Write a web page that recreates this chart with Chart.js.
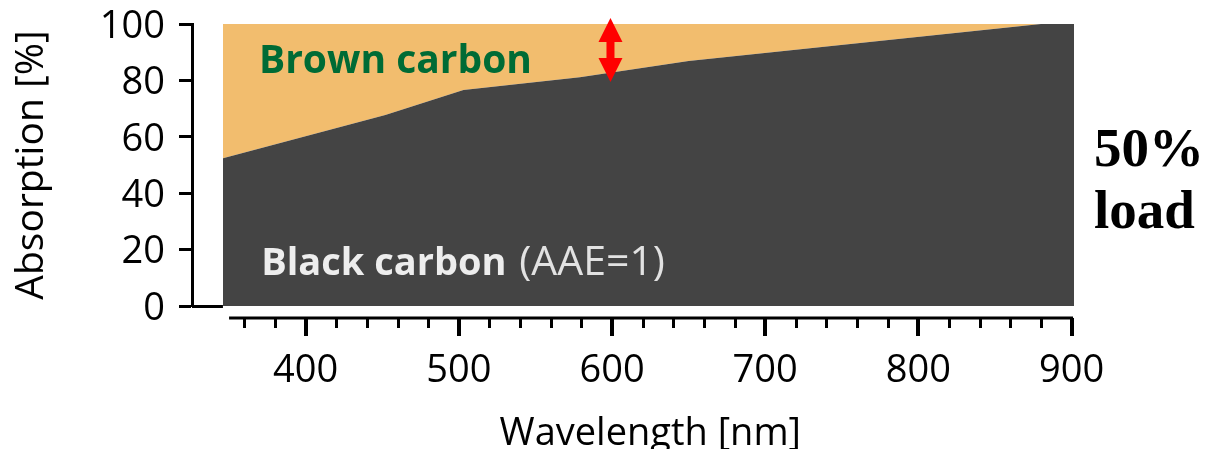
<!DOCTYPE html>
<html>
<head>
<meta charset="utf-8">
<script src="https://cdn.jsdelivr.net/npm/chart.js@4.4.1/dist/chart.umd.min.js"></script>
<style>
  html, body { margin: 0; padding: 0; background: #ffffff; }
  #wrap { width: 1211px; height: 449px; }
</style>
</head>
<body>
<div id="wrap"><canvas id="chart" width="1211" height="449"></canvas></div>
<script>
// Wavelength grid (nm) shared by both absorption series
const wavelengths = [346, 452, 503, 579, 650, 880, 901.6];
// Black carbon share of total absorption (%)
const blackCarbon = [52.4, 67.7, 76.6, 81.1, 86.9, 100, 100];
// Total absorption (%); the band between it and black carbon is brown carbon
const totalAbsorption = [100, 100, 100, 100, 100, 100, 100];

// Axis ticks
const xTickLabels = [400, 500, 600, 700, 800, 900];
const xMinorTicks = [360, 380, 420, 440, 460, 480, 520, 540, 560, 580, 620, 640,
                     660, 680, 720, 740, 760, 780, 820, 840, 860, 880];
const xAxisSpan = [350, 900];
const yTickLabels = [0, 20, 40, 60, 80, 100];

// Double arrow marking the brown carbon share at 600 nm
const arrowWavelength = 599;
const arrowSpan = [79.4, 102.1];

const FONT = "'Open Sans', 'Noto Sans', sans-serif";
const DARK = '#444444';
const ORANGE = '#F2BD6E';

// Draws the detached x axis line, its ticks and title, plus the in-plot labels
const decorations = {
  id: 'decorations',
  afterDatasetsDraw(chart) {
    const { ctx, chartArea, scales: { x, y } } = chart;
    ctx.save();

    // y = 0 baseline joining the y axis to the filled area
    ctx.strokeStyle = '#000';
    ctx.lineWidth = 3;
    ctx.beginPath();
    ctx.moveTo(chartArea.left, y.getPixelForValue(0) + 0.5);
    ctx.lineTo(x.getPixelForValue(wavelengths[0]), y.getPixelForValue(0) + 0.5);
    ctx.stroke();

    // detached x axis
    const axisY = chartArea.bottom + 12;
    ctx.lineWidth = 3;
    ctx.beginPath();
    ctx.moveTo(x.getPixelForValue(xAxisSpan[0]), axisY);
    ctx.lineTo(x.getPixelForValue(xAxisSpan[1]) + 1.5, axisY);
    ctx.stroke();

    ctx.lineWidth = 3;
    ctx.beginPath();
    xMinorTicks.forEach(v => {
      const px = Math.round(x.getPixelForValue(v)) + 0.5;
      ctx.moveTo(px, axisY);
      ctx.lineTo(px, axisY + 10);
    });
    ctx.stroke();

    ctx.lineWidth = 4;
    ctx.beginPath();
    xTickLabels.forEach(v => {
      const px = Math.round(x.getPixelForValue(v));
      ctx.moveTo(px, axisY);
      ctx.lineTo(px, axisY + 18);
    });
    ctx.stroke();

    // x axis title, centred under the axis span
    ctx.fillStyle = '#000';
    ctx.font = `38px ${FONT}`;
    ctx.textAlign = 'center';
    ctx.textBaseline = 'alphabetic';
    const midX = (x.getPixelForValue(xAxisSpan[0]) + x.getPixelForValue(xAxisSpan[1])) / 2;
    ctx.fillText('Wavelength [nm]', midX, 445);

    // in-plot labels
    ctx.textAlign = 'left';
    ctx.fillStyle = '#006B35';
    ctx.font = `bold 39px ${FONT}`;
    ctx.fillText('Brown carbon', x.getPixelForValue(369.5), y.getPixelForValue(82.5));

    const bx = x.getPixelForValue(371);
    const by = y.getPixelForValue(11);
    ctx.fillStyle = '#EDEDED';
    ctx.font = `bold 38px ${FONT}`;
    ctx.fillText('Black carbon', bx, by);
    const w = ctx.measureText('Black carbon').width;
    ctx.fillStyle = '#E2E2E2';
    ctx.font = `41px ${FONT}`;
    ctx.fillText(' (AAE=1)', bx + w + 2, by);

    // side note
    ctx.fillStyle = '#000';
    ctx.font = "bold 55px 'Liberation Serif', 'DejaVu Serif', serif";
    ctx.fillText('50%', chartArea.right + 20, 166);
    ctx.fillText('load', chartArea.right + 20, 228);

    // red double arrow
    const ax = x.getPixelForValue(arrowWavelength);
    const yLow = y.getPixelForValue(arrowSpan[0]);
    const yHigh = y.getPixelForValue(arrowSpan[1]);
    const head = 24, half = 12, shaft = 4;
    ctx.fillStyle = '#FF0000';
    ctx.beginPath();
    ctx.moveTo(ax, yHigh);
    ctx.lineTo(ax + half, yHigh + head);
    ctx.lineTo(ax + shaft, yHigh + head);
    ctx.lineTo(ax + shaft, yLow - head);
    ctx.lineTo(ax + half, yLow - head);
    ctx.lineTo(ax, yLow);
    ctx.lineTo(ax - half, yLow - head);
    ctx.lineTo(ax - shaft, yLow - head);
    ctx.lineTo(ax - shaft, yHigh + head);
    ctx.lineTo(ax - half, yHigh + head);
    ctx.closePath();
    ctx.fill();

    ctx.restore();
  }
};

const toPoints = values => wavelengths.map((w, i) => ({ x: w, y: values[i] }));

new Chart(document.getElementById('chart'), {
  type: 'line',
  data: {
    datasets: [
      {
        label: 'Black carbon',
        data: toPoints(blackCarbon),
        fill: 'origin',
        backgroundColor: DARK,
        borderWidth: 0,
        pointRadius: 0,
        tension: 0
      },
      {
        label: 'Brown carbon',
        data: toPoints(totalAbsorption),
        fill: '-1',
        backgroundColor: ORANGE,
        borderWidth: 0,
        pointRadius: 0,
        tension: 0
      }
    ]
  },
  options: {
    responsive: false,
    animation: false,
    devicePixelRatio: 1,
    events: [],
    layout: { autoPadding: false, padding: { left: 0, right: 137, top: 24, bottom: 0 } },
    plugins: { legend: { display: false }, tooltip: { enabled: false } },
    scales: {
      x: {
        type: 'linear',
        min: 325.8,
        max: 901.6,
        afterBuildTicks: s => { s.ticks = xTickLabels.map(v => ({ value: v })); },
        afterFit: s => { s.height = 143; s.paddingLeft = 0; s.paddingRight = 0; },
        grid: { display: false, drawTicks: false },
        border: { display: false },
        ticks: {
          padding: 42,
          maxRotation: 0,
          autoSkip: false,
          color: '#000',
          font: { family: FONT, size: 38 }
        }
      },
      y: {
        min: 0,
        max: 100,
        afterFit: s => { s.width = 192; s.paddingTop = 0; s.paddingBottom = 0; },
        afterBuildTicks: s => { s.ticks = yTickLabels.map(v => ({ value: v })); },
        grid: {
          display: true,
          drawOnChartArea: false,
          drawTicks: true,
          tickLength: 13,
          tickWidth: 3,
          tickColor: '#000'
        },
        border: { display: true, color: '#000', width: 3 },
        ticks: {
          padding: 14,
          labelOffset: 3,
          color: '#000',
          font: { family: FONT, size: 38 }
        },
        title: {
          display: true,
          text: 'Absorption [%]',
          color: '#000',
          padding: { top: 8, bottom: 0 },
          font: { family: FONT, size: 39 }
        }
      }
    }
  },
  plugins: [decorations]
});
</script>
</body>
</html>
